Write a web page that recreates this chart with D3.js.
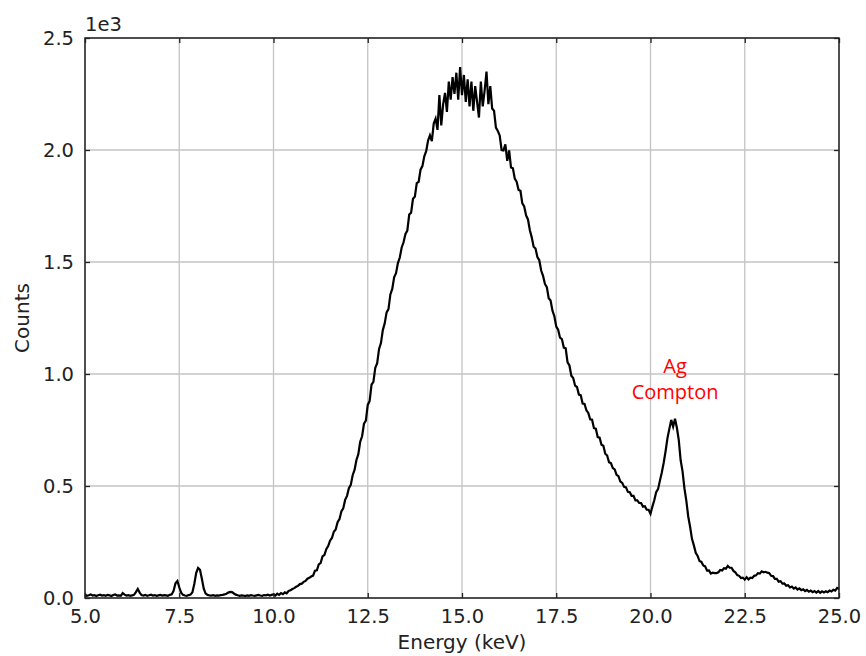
<!DOCTYPE html>
<html>
<head>
<meta charset="utf-8">
<script src="https://cdn.jsdelivr.net/npm/d3@7"></script>
<style>
  body { margin: 0; background: #fff; }
  svg { display: block; }
</style>
</head>
<body>
<script>
// spectrum, one value every 0.05 keV starting at 5.0
var eStart = 5.0;
var eStep = 0.05;
var counts = [
  14,10,12,16,11,13,9,12,15,11,13,10,14,12,9,13,16,11,12,10,            // 5.00
  22,15,11,13,10,12,14,26,40,24,13,11,14,10,12,15,11,13,10,12,           // 6.00
  14,11,13,12,10,14,16,32,66,76,48,24,14,11,10,13,15,26,64,112,          // 7.00
  134,126,86,42,20,14,12,11,13,10,12,11,13,14,16,19,24,27,26,20,         // 8.00
  15,12,10,12,11,9,12,10,13,11,10,12,14,11,10,13,12,15,11,14,            // 9.00
  16,11,19,14,22,17,25,21,31,34,40,44,50,54,62,64,72,76,86,90,           // 10.00
  96,100,122,124,150,156,186,192,218,232,256,268,296,306,338,352,386,400,438,456, // 11.00
  490,505,548,572,616,642,698,722,778,792,862,880,952,965,1028,1048,1112,1138,1196,1226, // 12.00
  1275,1290,1355,1380,1432,1450,1495,1520,1565,1588,1625,1640,1712,1720,1782,1792,1852,1858,1912,1928, // 13.00
  1972,1995,2042,2065,2040,2118,2140,2090,2245,2110,2205,2255,2170,2305,2225,2325,2250,2345,2225,2370, // 14.00
  2245,2335,2215,2315,2195,2305,2175,2285,2215,2145,2305,2195,2265,2350,2205,2285,2185,2175,2100,2085, // 15.00
  2065,2000,1998,2025,1952,1998,1922,1918,1872,1858,1822,1818,1762,1748,1708,1690,1642,1610,1568,1560, // 16.00
  1522,1508,1462,1438,1402,1388,1338,1328,1282,1258,1212,1198,1162,1156,1118,1115,1052,1038,992,982,   // 17.00
  948,942,908,905,868,866,838,826,798,796,758,756,718,716,684,680,644,636,606,602,   // 18.00
  580,574,550,544,520,514,496,494,474,472,456,456,436,436,424,424,408,410,394,394,   // 19.00
  376,408,436,472,486,524,560,604,655,714,755,795,765,800,760,705,615,565,490,435,   // 20.00
  365,318,264,235,202,188,165,161,145,141,122,123,109,113,111,111,115,125,123,133,   // 21.00
  131,143,135,135,121,115,102,99,89,91,82,93,83,91,89,99,101,111,109,119,            // 22.00
  115,117,113,111,99,98,85,85,73,75,64,65,55,57,47,51,42,47,38,43,                   // 23.00
  35,39,31,36,28,33,26,31,24,31,23,30,25,30,26,33,29,37,33,45,                       // 24.00
  40                                                                                // 25.00
];
var xTicks = [5.0, 7.5, 10.0, 12.5, 15.0, 17.5, 20.0, 22.5, 25.0];
var yTicks = [0, 500, 1000, 1500, 2000, 2500];
var noteLines = ['Ag', 'Compton'];
var noteAt = [20.6, 1000];

var W = 866, H = 656;
var m = {left: 85, top: 38, right: 27, bottom: 58};
var w = W - m.left - m.right, h = H - m.top - m.bottom;

var data = counts.map(function(c, i) { return {e: eStart + i * eStep, c: c}; });

var svg = d3.select('body').append('svg').attr('width', W).attr('height', H);
var g = svg.append('g').attr('transform', 'translate(' + m.left + ',' + m.top + ')');

var x = d3.scaleLinear().domain([5, 25]).range([0, w]);
var y = d3.scaleLinear().domain([0, 2500]).range([h, 0]);

// grid
g.selectAll('.vgrid').data(xTicks).enter().append('line')
  .attr('x1', function(d) { return x(d); }).attr('x2', function(d) { return x(d); })
  .attr('y1', 0).attr('y2', h)
  .attr('stroke', '#c4c4c4').attr('stroke-width', 1.3);
g.selectAll('.hgrid').data(yTicks).enter().append('line')
  .attr('y1', function(d) { return y(d); }).attr('y2', function(d) { return y(d); })
  .attr('x1', 0).attr('x2', w)
  .attr('stroke', '#c4c4c4').attr('stroke-width', 1.3);

// spectrum
var line = d3.line().x(function(d) { return x(d.e); }).y(function(d) { return y(d.c); });
g.append('path').datum(data)
  .attr('d', line)
  .attr('fill', 'none')
  .attr('stroke', '#000')
  .attr('stroke-width', 2.2)
  .attr('stroke-linejoin', 'miter');

// axes, ticks pointing inwards on all four sides
var fmt = d3.format('.1f');
var tickFont = '19.5px "DejaVu Sans"';
var axBottom = g.append('g').attr('transform', 'translate(0,' + h + ')')
  .call(d3.axisBottom(x).tickValues(xTicks).tickFormat(fmt).tickSizeInner(-5).tickSizeOuter(0).tickPadding(11));
var axTop = g.append('g')
  .call(d3.axisTop(x).tickValues(xTicks).tickFormat('').tickSizeInner(-5).tickSizeOuter(0));
var axLeft = g.append('g')
  .call(d3.axisLeft(y).tickValues(yTicks).tickFormat(function(d) { return fmt(d / 1000); }).tickSizeInner(-5).tickSizeOuter(0).tickPadding(11));
var axRight = g.append('g').attr('transform', 'translate(' + w + ',0)')
  .call(d3.axisRight(y).tickValues(yTicks).tickFormat('').tickSizeInner(-5).tickSizeOuter(0));

[axBottom, axTop, axLeft, axRight].forEach(function(a) {
  a.selectAll('.domain').remove();
  a.selectAll('.tick line').attr('stroke', '#222').attr('stroke-width', 1.3);
  a.selectAll('text').style('font', tickFont).attr('fill', '#222');
});

g.append('rect').attr('width', w).attr('height', h)
  .attr('fill', 'none').attr('stroke', '#222').attr('stroke-width', 1.5);

// labels
svg.append('text').attr('x', m.left).attr('y', 31)
  .style('font', tickFont).attr('fill', '#222').text('1e3');
svg.append('text').attr('x', m.left + w / 2).attr('y', 649)
  .attr('text-anchor', 'middle').style('font', '20px "DejaVu Sans"').attr('fill', '#222')
  .text('Energy (keV)');
svg.append('text')
  .attr('transform', 'translate(29,' + (m.top + h / 2) + ') rotate(-90)')
  .attr('text-anchor', 'middle').style('font', '20px "DejaVu Sans"').attr('fill', '#222')
  .text('Counts');

// annotation
g.selectAll('.note').data(noteLines).enter().append('text')
  .attr('x', x(noteAt[0]) + 2)
  .attr('y', function(d, i) { return y(noteAt[1]) - 1 + i * 26; })
  .attr('text-anchor', 'middle')
  .style('font', '20px "Open Sans"')
  .attr('fill', '#ff0000')
  .text(function(d) { return d; });
</script>
</body>
</html>
